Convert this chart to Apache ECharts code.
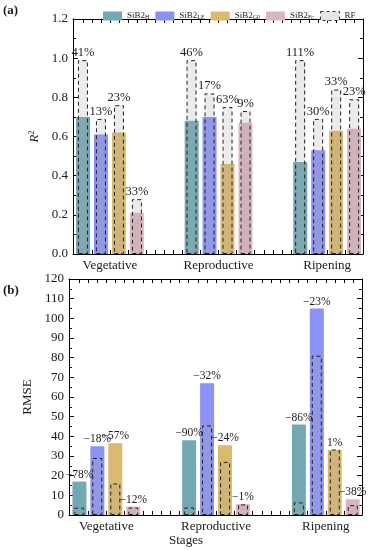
<!DOCTYPE html>
<html><head><meta charset="utf-8">
<script src="https://cdn.jsdelivr.net/npm/echarts@6/dist/echarts.min.js"></script>
<style>html,body{margin:0;padding:0;background:#fff}#c{width:372px;height:550px}</style>
</head><body><div id="c"></div>
<script>
// ---- data ----
const stagePos = [1, 2, 3];
const stages = ['Vegetative', 'Reproductive', 'Ripening'];
const varNames = ['SiB2_H', 'SiB2_LE', 'SiB2_GO', 'SiB2_Fc'];
const varSubs = ['H', 'LE', 'G0', 'Fc'];

// (a) R2
const r2_H  = [0.70, 0.68, 0.47];
const r2_LE = [0.61, 0.70, 0.53];
const r2_GO = [0.62, 0.46, 0.63];
const r2_Fc = [0.21, 0.67, 0.64];
const r2RF_H  = [0.99, 0.99, 0.99];
const r2RF_LE = [0.69, 0.82, 0.69];
const r2RF_GO = [0.76, 0.75, 0.84];
const r2RF_Fc = [0.28, 0.73, 0.79];
const r2Lab_H  = ['41%', '46%', '111%'];
const r2Lab_LE = ['13%', '17%', '30%'];
const r2Lab_GO = ['23%', '63%', '33%'];
const r2Lab_Fc = ['33%', '9%', '23%'];

// (b) RMSE
const rm_H  = [17, 38, 46];
const rm_LE = [35, 67, 105];
const rm_GO = [36.5, 35.5, 33];
const rm_Fc = [4.3, 5.5, 8];
const rmRF_H  = [3.7, 3.8, 6.4];
const rmRF_LE = [29, 45.5, 81];
const rmRF_GO = [16, 27, 33.3];
const rmRF_Fc = [3.8, 5.4, 5];
const rmLab_H  = ['\u221278%', '\u221290%', '\u221286%'];
const rmLab_LE = ['\u221218%', '\u221232%', '\u221223%'];
const rmLab_GO = ['\u221257%', '\u221224%', '1%'];
const rmLab_Fc = ['\u221212%', '\u22121%', '\u221238%'];

// ---- style ----
const colors = ['#72a7b4', '#8a92f6', '#dbb96e', '#dcb6bf'];
const FONT = '"Liberation Serif", "DejaVu Serif", serif';
const TXT = '#1a1a1a';
const XMIN = 0.66, XMAX = 3.33;
const xTickVals = [];
for (let k = Math.ceil(XMIN * 12); k <= Math.floor(XMAX * 12); k++) xTickVals.push(k / 12);

function xAxis(grid, pos, showLabels) {
  return {
    type: 'value', gridIndex: grid, position: pos, min: XMIN, max: XMAX,
    axisLine: { show: true, onZero: false, lineStyle: { color: '#000', width: 1 } },
    axisTick: { show: true, inside: true, length: 4, customValues: xTickVals, lineStyle: { color: '#000' } },
    axisLabel: {
      show: showLabels, customValues: stagePos, margin: 5,
      fontFamily: FONT, fontSize: 13, color: TXT,
      formatter: v => stages[stagePos.indexOf(Math.round(v))] || ''
    },
    splitLine: { show: false }
  };
}
function yAxis(grid, pos, min, max, interval, dec, showLabels, name, nameGap, nameRich) {
  return {
    type: 'value', gridIndex: grid, position: pos, min, max, interval,
    name: name, nameLocation: 'middle', nameGap: nameGap,
    nameTextStyle: { fontFamily: FONT, fontSize: 13, color: TXT, rich: nameRich },
    axisLine: { show: true, onZero: false, lineStyle: { color: '#000', width: 1 } },
    axisTick: { show: true, inside: true, length: 5, lineStyle: { color: '#000' } },
    minorTick: { show: true, splitNumber: 2, length: 3, lineStyle: { color: '#000' } },
    axisLabel: { show: showLabels, margin: 5, fontFamily: FONT, fontSize: 13, color: TXT,
      formatter: v => v.toFixed(dec) },
    splitLine: { show: false }
  };
}

function pts(vals) { return vals.map((v, i) => [stagePos[i], v]); }
function sib(name, vals, color, xi, yi, labels) {
  const s = {
    type: 'bar', name, xAxisIndex: xi, yAxisIndex: yi, data: pts(vals),
    barWidth: 14, barGap: '28%', itemStyle: { color }, z: 2, animation: false
  };
  if (labels) s.label = { show: true, position: 'top', distance: 1, fontFamily: FONT, fontSize: 11.5, color: TXT,
    formatter: p => labels[p.dataIndex] };
  return s;
}
function rf(vals, xi, yi, labels) {
  const s = {
    type: 'bar', name: 'RF', xAxisIndex: xi, yAxisIndex: yi, data: pts(vals),
    barWidth: 10, barGap: '80%', z: 3, animation: false,
    itemStyle: { color: 'rgba(170,170,170,0.24)', borderColor: '#222', borderWidth: 1, borderType: [4, 3] }
  };
  if (labels) s.label = { show: true, position: 'top', distance: 1, fontFamily: FONT, fontSize: 12.5, color: TXT,
    formatter: p => labels[p.dataIndex] };
  return s;
}

const series = [];
const r2S = [r2_H, r2_LE, r2_GO, r2_Fc], r2RF = [r2RF_H, r2RF_LE, r2RF_GO, r2RF_Fc], r2L = [r2Lab_H, r2Lab_LE, r2Lab_GO, r2Lab_Fc];
const rmS = [rm_H, rm_LE, rm_GO, rm_Fc], rmRF = [rmRF_H, rmRF_LE, rmRF_GO, rmRF_Fc], rmL = [rmLab_H, rmLab_LE, rmLab_GO, rmLab_Fc];
for (let i = 0; i < 4; i++) series.push(sib(varNames[i], r2S[i], colors[i], 0, 0, null));
for (let i = 0; i < 4; i++) series.push(rf(r2RF[i], 1, 0, r2L[i]));
for (let i = 0; i < 4; i++) series.push(sib(varNames[i], rmS[i], colors[i], 2, 2, rmL[i]));
for (let i = 0; i < 4; i++) series.push(rf(rmRF[i], 3, 2, null));

const chart = echarts.init(document.getElementById('c'), null, { renderer: 'canvas' });
chart.setOption({
  animation: false,
  backgroundColor: '#fff',
  grid: [
    { left: 73, right: 9, top: 19, height: 235 },
    { left: 69, right: 10, top: 279, height: 236 }
  ],
  legend: {
    left: 98, top: 6, itemWidth: 19, itemHeight: 9, itemGap: 6, itemTextGap: 3,
    icon: 'rect',
    data: varNames.map(n => ({ name: n })).concat([{ name: 'RF',
      itemStyle: { color: '#e6e6e6', borderColor: '#333', borderWidth: 1, borderType: [3, 3] } }]),
    formatter: n => { const i = varNames.indexOf(n); return i >= 0 ? 'SiB2{sb|' + varSubs[i] + '}' : 'RF'; },
    textStyle: { fontFamily: FONT, fontSize: 9, color: TXT, rich: {
      sb: { fontFamily: FONT, fontSize: 6, color: TXT, verticalAlign: 'bottom' }
    } }
  },
  xAxis: [xAxis(0, 'bottom', true), xAxis(0, 'top', false), xAxis(1, 'bottom', true), xAxis(1, 'top', false)],
  yAxis: [
    yAxis(0, 'left', 0, 1.2, 0.2, 1, true, '{i|R}{s|2}', 30, {
      i: { fontFamily: FONT, fontSize: 13, fontStyle: 'italic', color: TXT },
      s: { fontFamily: FONT, fontSize: 8, color: TXT, verticalAlign: 'top' } }),
    yAxis(0, 'right', 0, 1.2, 0.2, 1, false),
    yAxis(1, 'left', 0, 120, 10, 0, true, 'RMSE', 32),
    yAxis(1, 'right', 0, 120, 10, 0, false)
  ],
  graphic: [
    { type: 'text', left: 3, top: 4, style: { text: '(a)', font: 'bold 13px ' + FONT, fill: TXT } },
    { type: 'text', left: 3, top: 284, style: { text: '(b)', font: 'bold 13px ' + FONT, fill: TXT } },
    { type: 'text', left: 'center', top: 534, style: { text: 'Stages', font: '13px ' + FONT, fill: TXT } }
  ],
  series
});
</script></body></html>
